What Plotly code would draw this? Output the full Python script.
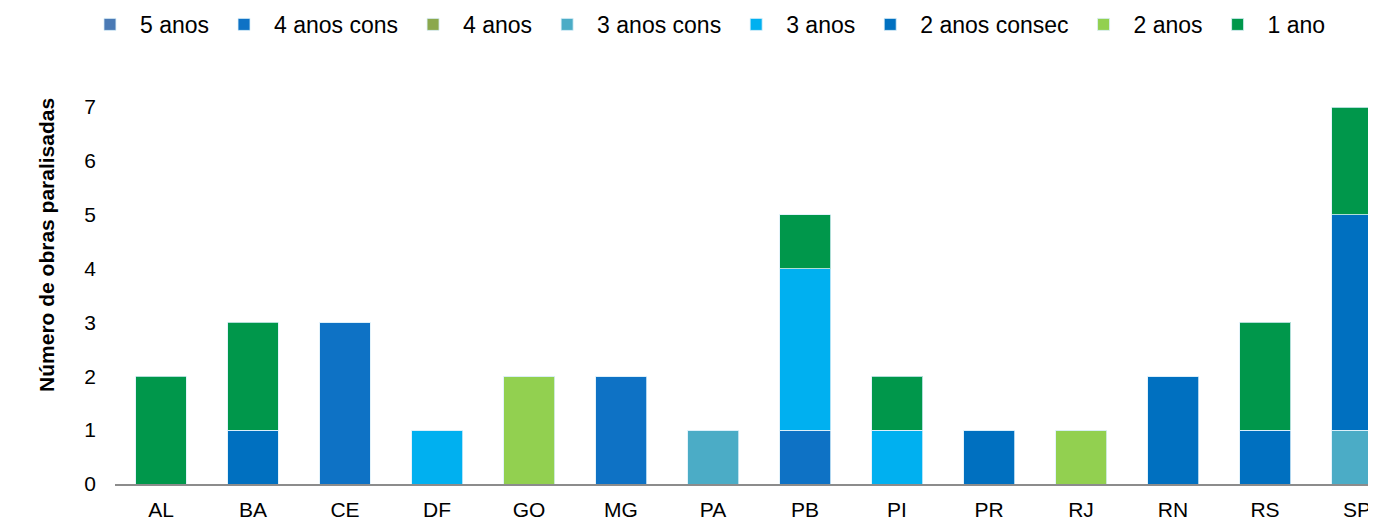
import plotly.graph_objects as go

categories = ["AL", "BA", "CE", "DF", "GO", "MG", "PA", "PB", "PI", "PR", "RJ", "RN", "RS", "SP"]

anos5        = [0, 0, 0, 0, 0, 0, 0, 0, 0, 0, 0, 0, 0, 0]
anos4_cons   = [0, 0, 3, 0, 0, 2, 0, 1, 0, 0, 0, 0, 0, 0]
anos4        = [0, 0, 0, 0, 0, 0, 0, 0, 0, 0, 0, 0, 0, 0]
anos3_cons   = [0, 0, 0, 0, 0, 0, 1, 0, 0, 0, 0, 0, 0, 1]
anos3        = [0, 0, 0, 1, 0, 0, 0, 3, 1, 0, 0, 0, 0, 0]
anos2_consec = [0, 1, 0, 0, 0, 0, 0, 0, 0, 1, 0, 2, 1, 4]
anos2        = [0, 0, 0, 0, 2, 0, 0, 0, 0, 0, 1, 0, 0, 0]
ano1         = [2, 2, 0, 0, 0, 0, 0, 1, 1, 0, 0, 0, 2, 2]

series = [
    ("5 anos", anos5, "#4A7AB5"),
    ("4 anos cons", anos4_cons, "#0E72C5"),
    ("4 anos", anos4, "#8BA84D"),
    ("3 anos cons", anos3_cons, "#4BACC6"),
    ("3 anos", anos3, "#00B0F0"),
    ("2 anos consec", anos2_consec, "#0070C0"),
    ("2 anos", anos2, "#92D050"),
    ("1 ano", ano1, "#00974B"),
]

FONT = "Liberation Sans, Arial, sans-serif"

fig = go.Figure()
for name, vals, color in series:
    fig.add_trace(go.Bar(
        x=categories, y=vals, name=name,
        marker=dict(color=color, line=dict(color="rgba(220,240,250,0.8)", width=1)),
    ))

fig.update_layout(
    barmode="stack",
    bargap=0.446,
    width=1376, height=524,
    margin=dict(l=107, r=0, t=99, b=48, autoexpand=False),
    paper_bgcolor="white",
    plot_bgcolor="white",
    font=dict(family=FONT, size=21, color="#000000"),
    showlegend=True,
    legend=dict(
        orientation="h",
        xref="container", yref="paper",
        x=0.0523, y=1.276, xanchor="left", yanchor="top",
        font=dict(family=FONT, size=23, color="#000000"),
        itemwidth=50,
        traceorder="normal",
        bgcolor="rgba(0,0,0,0)",
    ),
    xaxis=dict(
        range=[-0.5, 13.293],
        showgrid=False,
        showline=True, linecolor="#8C8C8C", linewidth=2,
        ticks="",
        ticklabelstandoff=6,
        tickfont=dict(family=FONT, size=21, color="#000000"),
        zeroline=False,
    ),
    yaxis=dict(
        range=[0, 7],
        dtick=1,
        showgrid=False,
        showline=False,
        zeroline=False,
        ticks="",
        ticklabelstandoff=18,
        tickfont=dict(family=FONT, size=21, color="#000000"),
    ),
    annotations=[dict(
        text="<b>Número de obras paralisadas</b>",
        xref="paper", yref="paper",
        x=-0.0536, y=0.634, xanchor="center", yanchor="middle",
        textangle=-90, showarrow=False,
        font=dict(family=FONT, size=21, color="#000000"),
    )],
)

fig.write_html("out.html")
